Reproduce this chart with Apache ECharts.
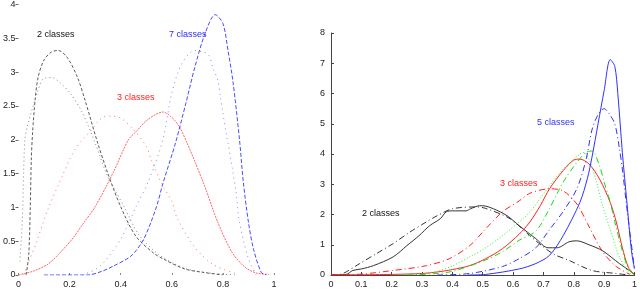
<!DOCTYPE html>
<html>
<head>
<meta charset="utf-8">
<script src="https://cdn.jsdelivr.net/npm/echarts@6/dist/echarts.min.js"></script>
<style>
html,body{margin:0;padding:0;background:#fff;}
#c{width:640px;height:289px;}
</style>
</head>
<body>
<div id="c"></div>
<script>
// ---- Left panel data ([x, density]) ----
const leftTwoA = [[0.03,0],[0.04,0.3],[0.046,1.0],[0.05,1.7],[0.055,2.1],[0.065,2.59],[0.077,2.93],[0.1,3.18],[0.13,3.3],[0.155,3.32],[0.19,3.22],[0.23,2.93],[0.26,2.59],[0.31,1.95],[0.35,1.5],[0.4,1.01],[0.46,0.57],[0.53,0.32],[0.565,0.24],[0.65,0.09],[0.72,0.04],[0.8,0.0]];
const leftTwoB = [[0.005,0.2],[0.015,0.8],[0.02,1.5],[0.025,2.0],[0.035,2.2],[0.073,2.69],[0.097,2.9],[0.13,2.92],[0.16,2.85],[0.2,2.7],[0.25,2.4],[0.3,1.95],[0.35,1.45],[0.415,1.0],[0.47,0.6],[0.55,0.3],[0.65,0.1],[0.75,0.03],[0.85,0.0]];
const leftThreeA = [[0,0],[0.01,0.01],[0.06,0.06],[0.115,0.16],[0.16,0.32],[0.21,0.53],[0.255,0.77],[0.3,1.01],[0.37,1.51],[0.43,2.0],[0.46,2.12],[0.5,2.28],[0.54,2.38],[0.565,2.41],[0.6,2.33],[0.63,2.19],[0.66,1.95],[0.69,1.68],[0.73,1.3],[0.78,0.78],[0.835,0.34],[0.885,0.12],[0.93,0.03],[0.98,0.01]];
const leftThreeB = [[0.02,0],[0.04,0.2],[0.065,0.43],[0.115,0.97],[0.17,1.45],[0.22,1.85],[0.28,2.12],[0.335,2.34],[0.365,2.35],[0.4,2.32],[0.45,2.15],[0.5,1.9],[0.52,1.7],[0.56,1.35],[0.6,1.09],[0.62,0.85],[0.69,0.41],[0.76,0.16],[0.85,0.02]];
const leftSevenA = [[0.1,0],[0.27,0],[0.33,0.06],[0.37,0.13],[0.44,0.28],[0.49,0.53],[0.54,1.01],[0.565,1.35],[0.615,1.96],[0.655,2.54],[0.69,3.07],[0.73,3.57],[0.77,3.85],[0.8,3.72],[0.82,3.32],[0.84,2.84],[0.865,2.0],[0.88,1.37],[0.9,0.78],[0.92,0.38],[0.95,0.04],[0.97,0]];
const leftSevenB = [[0.25,0],[0.3,0.08],[0.335,0.19],[0.4,0.53],[0.46,1.01],[0.51,1.4],[0.565,2.0],[0.6,2.69],[0.64,3.13],[0.69,3.32],[0.72,3.3],[0.745,3.25],[0.76,3.07],[0.78,2.88],[0.79,2.63],[0.8,2.4],[0.815,2.04],[0.82,1.95],[0.85,1.26],[0.865,0.78],[0.9,0.24],[0.93,0]];

// ---- Right panel data ----
const rightTwoSolid = [[0,0],[0.05,0.02],[0.072,0.15],[0.1,0.2],[0.14,0.31],[0.205,0.6],[0.25,0.97],[0.29,1.3],[0.325,1.63],[0.36,1.86],[0.38,2.09],[0.4,2.12],[0.445,2.12],[0.46,2.19],[0.49,2.29],[0.5,2.29],[0.535,2.19],[0.58,1.96],[0.62,1.63],[0.675,1.2],[0.715,0.9],[0.745,0.9],[0.785,1.1],[0.81,1.13],[0.85,1.0],[0.895,0.8],[0.95,0.38],[0.99,0.1],[1.0,0.02]];
const rightTwoDash = [[0,0],[0.02,0.01],[0.04,0.05],[0.095,0.38],[0.15,0.71],[0.205,1.04],[0.26,1.42],[0.315,1.76],[0.35,1.96],[0.4,2.19],[0.48,2.25],[0.51,2.2],[0.59,1.86],[0.655,1.3],[0.73,0.71],[0.785,0.48],[0.86,0.15],[0.94,0.05],[0.98,0.0]];
const rightThreeDash = [[0,0],[0.1,0.03],[0.205,0.15],[0.315,0.31],[0.39,0.54],[0.457,0.97],[0.51,1.53],[0.565,2.09],[0.62,2.45],[0.655,2.7],[0.72,2.85],[0.765,2.78],[0.81,2.35],[0.845,1.7],[0.895,0.77],[0.94,0.28],[0.985,0.02]];
const rightThreeSolid = [[0,0],[0.2,0.02],[0.3,0.05],[0.35,0.1],[0.4,0.18],[0.457,0.31],[0.51,0.54],[0.565,0.87],[0.62,1.35],[0.655,1.75],[0.69,2.3],[0.72,2.85],[0.765,3.45],[0.8,3.8],[0.82,3.83],[0.85,3.67],[0.885,3.17],[0.92,2.4],[0.94,1.75],[0.96,0.9],[0.98,0.25],[1.0,0.02]];
const rightFourDot = [[0.2,0],[0.3,0.04],[0.35,0.12],[0.4,0.3],[0.457,0.6],[0.51,0.9],[0.565,1.3],[0.62,1.75],[0.655,2.08],[0.72,2.95],[0.765,3.5],[0.82,4.0],[0.835,4.05],[0.855,3.7],[0.875,3.07],[0.895,2.29],[0.92,1.5],[0.95,0.6],[0.98,0.1],[1.0,0]];
const rightFourDash = [[0.25,0],[0.35,0.05],[0.4,0.12],[0.457,0.3],[0.51,0.5],[0.565,0.77],[0.62,1.15],[0.675,1.45],[0.72,2.2],[0.765,3.07],[0.81,3.72],[0.84,4.05],[0.86,4.1],[0.885,3.6],[0.9,3.07],[0.92,2.41],[0.935,1.76],[0.96,0.8],[0.98,0.2],[1.0,0]];
const rightFiveDash = [[0.35,0],[0.457,0.05],[0.565,0.28],[0.62,0.54],[0.675,0.9],[0.72,1.5],[0.765,2.1],[0.81,2.85],[0.84,3.8],[0.86,4.8],[0.88,5.3],[0.9,5.5],[0.915,5.35],[0.935,5.0],[0.95,4.2],[0.96,3.5],[0.975,2.2],[0.985,1.4],[1.0,0.2]];
const rightFiveSolid = [[0.45,0],[0.51,0.02],[0.62,0.2],[0.675,0.38],[0.72,0.65],[0.765,1.3],[0.82,2.4],[0.845,3.2],[0.86,3.9],[0.88,5.0],[0.9,6.1],[0.92,7.12],[0.935,6.9],[0.945,6.0],[0.96,4.05],[0.975,2.4],[0.99,0.8],[1.0,0.2]];

const leftXTicks = [0, 0.2, 0.4, 0.6, 0.8, 1];
const leftYTicks = [0, 0.5, 1, 1.5, 2, 2.5, 3, 3.5, 4];
const rightXTicks = [0, 0.1, 0.2, 0.3, 0.4, 0.5, 0.6, 0.7, 0.8, 0.9, 1];
const rightYTicks = [0, 1, 2, 3, 4, 5, 6, 7, 8];

const FONT = 'Liberation Sans, Arial, sans-serif';
const DASHDOT = [6, 3, 1, 3];

function line(data, idx, color, type, width, opacity) {
  return {
    type: 'line', data: data, xAxisIndex: idx, yAxisIndex: idx,
    showSymbol: false, symbol: 'none', smooth: 0.3, silent: true, animation: false,
    lineStyle: { color: color, type: type, width: width, opacity: opacity === undefined ? 1 : opacity }
  };
}
function fmt(v){ return String(Math.round(v*10)/10); }

const chart = echarts.init(document.getElementById('c'), null, { renderer: 'canvas' });
chart.setOption({
  animation: false,
  backgroundColor: '#fff',
  grid: [
    { left: 13, right: 366, top: 4, bottom: 13 },
    { left: 331, right: 5, top: 33, bottom: 12.5 }
  ],
  xAxis: [
    { type: 'value', gridIndex: 0, min: leftXTicks[0], max: leftXTicks[leftXTicks.length-1], interval: 0.2,
      axisLine: { show: false }, splitLine: { show: false },
      axisTick: { show: true, inside: true, length: 2, lineStyle: { color: '#888' } },
      axisLabel: { fontSize: 9, color: '#222', fontFamily: FONT, margin: 5, formatter: fmt } },
    { type: 'value', gridIndex: 1, min: rightXTicks[0], max: rightXTicks[rightXTicks.length-1], interval: 0.1,
      axisLine: { show: true, onZero: false, lineStyle: { color: '#444', width: 1 } }, splitLine: { show: false },
      axisTick: { show: true, inside: true, length: 3, lineStyle: { color: '#444' } },
      axisLabel: { fontSize: 9, color: '#222', fontFamily: FONT, margin: 5, formatter: fmt } }
  ],
  yAxis: [
    { type: 'value', gridIndex: 0, min: leftYTicks[0], max: leftYTicks[leftYTicks.length-1], interval: 0.5,
      axisLine: { show: false }, splitLine: { show: false },
      axisTick: { show: true, inside: false, length: 3, lineStyle: { color: '#666' } },
      axisLabel: { fontSize: 9, color: '#222', fontFamily: FONT, margin: 3, formatter: fmt } },
    { type: 'value', gridIndex: 1, min: rightYTicks[0], max: rightYTicks[rightYTicks.length-1], interval: 1,
      axisLine: { show: true, onZero: false, lineStyle: { color: '#444', width: 1 } }, splitLine: { show: false },
      axisTick: { show: true, inside: true, length: 3, lineStyle: { color: '#444' } },
      axisLabel: { fontSize: 9, color: '#222', fontFamily: FONT, margin: 6, formatter: fmt } }
  ],
  series: [
    line(leftTwoA, 0, '#333', [3, 2], 1, 0.8),
    line(leftTwoB, 0, '#666', [1, 3], 1, 0.8),
    line(leftThreeA, 0, '#ff3030', [2, 1], 1, 0.75),
    line(leftThreeB, 0, '#ff5050', [1, 4], 1, 0.8),
    line(leftSevenA, 0, '#2a2aff', [4, 2], 1, 0.85),
    line(leftSevenB, 0, '#6666ff', [1, 4], 1, 0.8),

    line(rightTwoSolid, 1, '#333', 'solid', 1),
    line(rightTwoDash, 1, '#333', DASHDOT, 1),
    line(rightThreeDash, 1, '#ff2020', DASHDOT, 1),
    line(rightThreeSolid, 1, '#ff2020', 'solid', 1),
    line(rightFourDot, 1, '#33ee33', [1, 2], 1),
    line(rightFourDash, 1, '#11dd11', DASHDOT, 1),
    line(rightFiveDash, 1, '#3030ff', DASHDOT, 1),
    line(rightFiveSolid, 1, '#3030ff', 'solid', 1)
  ],
  graphic: [
    { type: 'text', left: 37, top: 30, style: { text: '2 classes', fill: '#111', font: '9px ' + FONT } },
    { type: 'text', left: 117, top: 93, style: { text: '3 classes', fill: '#ff2020', font: '9px ' + FONT } },
    { type: 'text', left: 169, top: 30, style: { text: '7 classes', fill: '#2a2aff', font: '9px ' + FONT } },
    { type: 'text', left: 362, top: 209, style: { text: '2 classes', fill: '#111', font: '9px ' + FONT } },
    { type: 'text', left: 500, top: 179, style: { text: '3 classes', fill: '#ff2020', font: '9px ' + FONT } },
    { type: 'text', left: 537, top: 118, style: { text: '5 classes', fill: '#3030ff', font: '9px ' + FONT } }
  ]
});
</script>
</body>
</html>
